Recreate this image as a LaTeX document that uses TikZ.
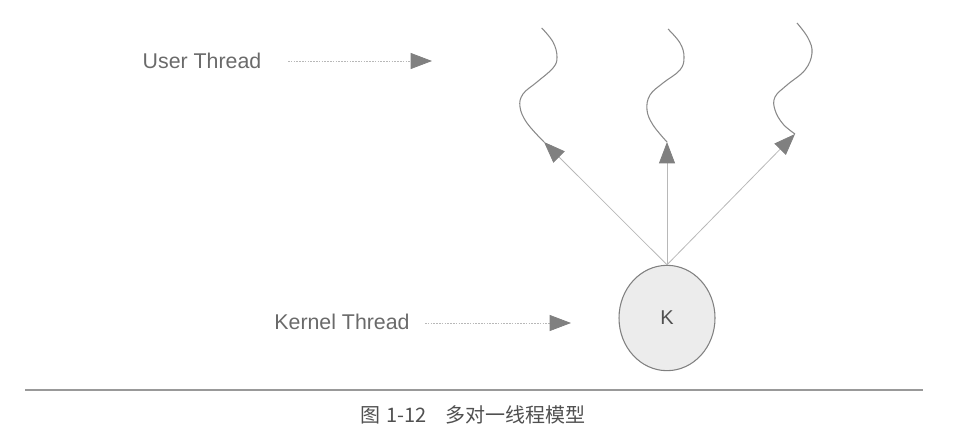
\documentclass[tikz,border=0pt]{standalone}
\usepackage{fontspec}
\setmainfont{Liberation Sans}
\newfontfamily\cjk{Noto Sans CJK SC}
\usetikzlibrary{arrows.meta,shapes.geometric}
\definecolor{labelgray}{HTML}{6A6A6A}
\definecolor{headgray}{HTML}{808080}
\definecolor{linegray}{HTML}{B8B8B8}
\definecolor{wavegray}{HTML}{8A8A8A}
\definecolor{fillgray}{HTML}{ECECEC}
\definecolor{capgray}{HTML}{505050}
\tikzset{
  lbl/.style={font=\fontsize{16}{19}\selectfont, text=labelgray, inner sep=0pt},
  pointer/.style={draw=linegray, line width=0.6pt, dash pattern=on 1.2pt off 0.9pt,
    -{Triangle[length=16pt,width=12pt,color=headgray,fill=headgray]}},
  branch/.style={draw=linegray, line width=0.6pt,
    -{Triangle[length=16pt,width=12pt,color=headgray,fill=headgray]}},
  wave/.style={draw=wavegray, line width=0.8pt},
  kernel/.style={ellipse, draw=headgray, fill=fillgray, line width=0.8pt,
    minimum width=72pt, minimum height=79pt, inner sep=0pt,
    font=\fontsize{15}{18}\selectfont, text=capgray},
}
\begin{document}
\begin{tikzpicture}[x=0.75pt,y=-0.75pt]
\useasboundingbox (0,0) rectangle (969,442);
% labels
\node[lbl] (user) at (202,61) {User Thread};
\node[lbl] (kern) at (342,322) {Kernel Thread};
\coordinate (ua) at (288,61);
\coordinate (ub) at (432,61);
\coordinate (ka) at (425,323);
\coordinate (kb) at (571,323);
\draw[pointer] (ua) -- (ub);
\draw[pointer] (ka) -- (kb);
% kernel thread
\node[kernel] (K) at (667,318) {K};
\coordinate (t1) at (544,142);
\coordinate (t2) at (667,142);
\coordinate (t3) at (795,134);
\draw[branch] (K.north) -- (t1);
\draw[branch] (K.north) -- (t2);
\draw[branch] (K.north) -- (t3);
% user threads (wavy lines)
\draw[wave] plot[smooth, tension=0.65] coordinates {(541.7,28) (553,42) (557,57) (553,68) (537,82) (523,94) (520,107) (527,123) (544,142)};
\draw[wave] plot[smooth, tension=0.65] coordinates {(668,29) (680,43) (684,57) (680,70) (663,83) (650,95) (647,110) (653,125) (667,142)};
\draw[wave] plot[smooth, tension=0.65] coordinates {(797,23) (808,38) (812,53) (805,70) (787,85) (775,97) (775,110) (783,124) (795,134)};
% rule and caption
\coordinate (r1) at (25,390);
\coordinate (r2) at (923,390);
\draw[draw=headgray!80, line width=1.1pt] (r1) -- (r2);
\node[anchor=west, inner sep=0pt, text=capgray, font=\cjk\fontsize{15}{18}\selectfont] (cap) at (360,415) {图\hspace{4.5pt}1-12\hspace{14pt}多对一线程模型};
\end{tikzpicture}
\end{document}
